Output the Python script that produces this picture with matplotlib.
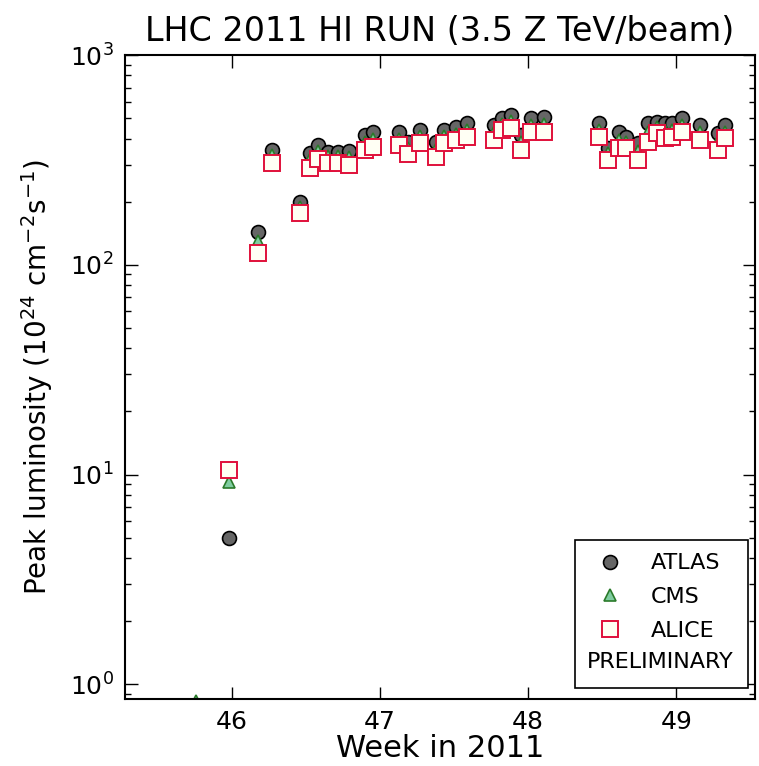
import matplotlib
matplotlib.use("Agg")
import matplotlib.pyplot as plt
from matplotlib.ticker import LogLocator, NullFormatter

# Week of fill (fractional week in 2011)
weeks = [45.98, 46.18, 46.27, 46.46, 46.525, 46.585, 46.65, 46.72, 46.79,
         46.90, 46.95, 47.13, 47.19, 47.27, 47.38, 47.43, 47.515, 47.59,
         47.77, 47.82, 47.885, 47.95, 48.02, 48.11, 48.48, 48.54, 48.61,
         48.66, 48.74, 48.81, 48.87, 48.92, 48.97, 49.04, 49.16, 49.28, 49.33]

# Peak luminosity per fill, 10^24 cm^-2 s^-1
atlas = [5.0, 144, 353, 200, 342, 373, 345, 345, 349,
         416, 430, 430, 385, 439, 385, 439, 454, 475,
         464, 501, 518, 416, 501, 507, 475, 361, 430,
         407, 381, 475, 479, 475, 475, 501, 464, 425, 464]

cms_weeks = [45.76] + weeks
cms = [0.83, 9.2, 130, 334, 188, 320, 350, 330, 330, 325,
       385, 400, 400, 360, 410, 355, 410, 420, 440,
       430, 470, 485, 385, 465, 470, 440, 340, 395,
       385, 350, 430, 455, 440, 440, 465, 430, 390, 430]

alice = [10.5, 114, 306, 177, 290, 320, 306, 306, 299,
         353, 365, 373, 338, 381, 327, 381, 394, 407,
         394, 439, 449, 353, 430, 430, 407, 316, 361,
         361, 316, 385, 425, 403, 407, 430, 394, 353, 403]

fig = plt.figure(figsize=(7.59, 7.66), dpi=100)
ax = fig.add_axes([0.1647, 0.0875, 0.830, 0.8405])

ax.plot(weeks, atlas, 'o', ms=10, mfc='#666666', mec='black', mew=1.2, label='ATLAS')
ax.plot(cms_weeks, cms, '^', ms=9, mfc='#7fcca0', mec='#2a7a2a', mew=1.2, label='CMS')
ax.plot(weeks, alice, 's', ms=11, mfc='#fffff4', mec='#e0103a', mew=1.4, label='ALICE')
# empty entry that leaves room for the PRELIMINARY line
ax.plot([], [], ' ', label=' ')

ax.set_yscale('log')
ax.set_xlim(45.28, 49.53)
ax.set_ylim(0.85, 1000)
ax.set_xticks([46, 47, 48, 49])
ax.yaxis.set_major_locator(LogLocator(base=10))
ax.yaxis.set_minor_locator(LogLocator(base=10, subs=range(2, 10)))
ax.yaxis.set_minor_formatter(NullFormatter())

ax.tick_params(which='both', direction='in', top=True, right=True, labelsize=18, pad=8)
ax.tick_params(which='major', length=9, width=1)
ax.tick_params(which='minor', length=4, width=1)
for s in ax.spines.values():
    s.set_linewidth(1.5)

ax.set_xlabel('Week in 2011', fontsize=22, labelpad=0)
ax.set_ylabel(r'Peak luminosity ($10^{24}$ cm$^{-2}$s$^{-1}$)', fontsize=20, labelpad=11)
ax.set_title('LHC 2011 HI RUN (3.5 Z TeV/beam)', fontsize=24, pad=10)

leg = ax.legend(loc='lower left', bbox_to_anchor=(0.714, 0.017, 0.275, 0.225),
                mode='expand', borderaxespad=0, fontsize=16, numpoints=1,
                fancybox=False, framealpha=1, edgecolor='black', borderpad=0.6,
                handletextpad=0.8, labelspacing=0.62)
leg.get_frame().set_linewidth(1.2)
ax.text(0.849, 0.0575, 'PRELIMINARY', transform=ax.transAxes, fontsize=16,
        ha='center', va='center', zorder=10)

fig.savefig('out.png', dpi=100, facecolor='white')
